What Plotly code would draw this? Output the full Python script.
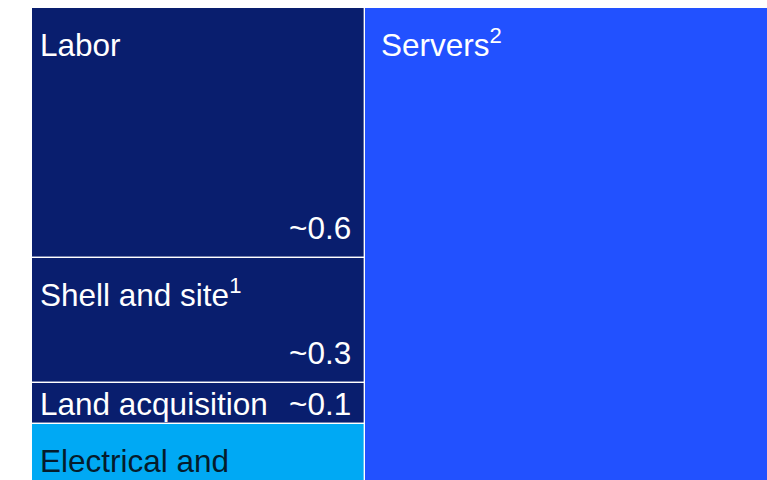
import plotly.graph_objects as go

# ---- data ----
left_labels = ["Labor", "Shell and site<sup>1</sup>", "Land acquisition", "Electrical and"]
left_values = [0.6, 0.3, 0.1, 1.0]
left_value_text = ["~0.6", "~0.3", "~0.1", ""]
right_labels = ["Servers<sup>2</sup>"]
right_values = [3.0]
column_widths = [1.0, 1.6]

# ---- styles ----
navy = "#091e6e"
left_colors = [navy, navy, navy, "#00a9f4"]
left_text_colors = ["white", "white", "white", "#051c2c"]
right_colors = ["#2251ff"]
right_text_colors = ["white"]
FONT = "Liberation Sans, Arial, sans-serif"
FS = 31.5

fig = go.Figure()
annotations = []

col_left = [0.0, column_widths[0]]
columns = [
    (left_labels, left_values, left_value_text, left_colors, left_text_colors, 6),
    (right_labels, right_values, [""], right_colors, right_text_colors, 14),
]

for ci, (labels, values, vtexts, colors, tcolors, pad) in enumerate(columns):
    x0 = col_left[ci]
    w = column_widths[ci]
    bases = []
    acc = 0.0
    for v in values:
        bases.append(acc)
        acc += v
    fig.add_trace(go.Bar(
        x=[x0 + w / 2] * len(values),
        y=values,
        base=bases,
        width=[w] * len(values),
        marker=dict(color=colors, line=dict(color="white", width=1.2)),
        textposition="none",
        hoverinfo="skip",
        showlegend=False,
    ))
    for lab, v, b, vt, tc in zip(labels, values, bases, vtexts, tcolors):
        small = v < 0.15
        has_sup = "<sup>" in lab
        if small:
            annotations.append(dict(x=x0, y=b + v / 2, xref="x", yref="y", text=lab,
                                    xanchor="left", yanchor="middle", xshift=pad, showarrow=False,
                                    font=dict(family=FONT, size=FS, color=tc)))
            if vt:
                annotations.append(dict(x=x0 + w, y=b + v / 2, xref="x", yref="y", text=vt,
                                        xanchor="right", yanchor="middle", xshift=-12, showarrow=False,
                                        font=dict(family=FONT, size=FS, color=tc)))
        else:
            annotations.append(dict(x=x0, y=b, xref="x", yref="y", text=lab,
                                    xanchor="left", yanchor="top", xshift=pad,
                                    yshift=(-13 if has_sup else -17), showarrow=False,
                                    align="left",
                                    font=dict(family=FONT, size=FS, color=tc)))
            if vt:
                annotations.append(dict(x=x0 + w, y=b + v, xref="x", yref="y", text=vt,
                                        xanchor="right", yanchor="bottom", xshift=-12, yshift=10, showarrow=False,
                                        font=dict(family=FONT, size=FS, color=tc)))

fig.update_layout(
    width=767, height=480,
    margin=dict(l=0, r=0, t=0, b=0),
    paper_bgcolor="white", plot_bgcolor="white",
    barmode="overlay", bargap=0,
    annotations=annotations,
    xaxis=dict(range=[-0.096, 2.204], visible=False, fixedrange=True),
    yaxis=dict(range=[1.1333, -0.0192], visible=False, fixedrange=True),
)

fig.write_html(
    "out.html",
    config={"displayModeBar": False},
    post_script="document.body.style.margin='0';document.body.style.overflow='hidden';",
)
